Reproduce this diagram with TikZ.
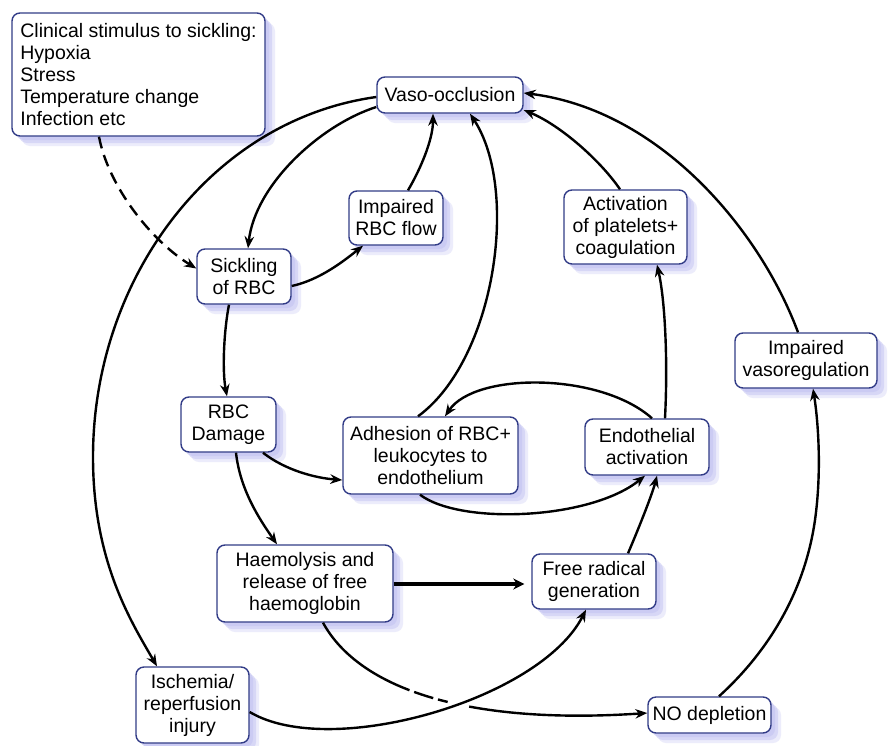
\documentclass[tikz,border=0pt]{standalone}
\usepackage{fontspec}
\setmainfont{Liberation Sans}
\usetikzlibrary{arrows.meta,shadows}
\definecolor{boxc}{RGB}{50,60,135}
\definecolor{shc}{RGB}{195,195,242}
\begin{document}
\begin{tikzpicture}[x=1pt,y=-1pt,
  box/.style={draw=boxc, line width=1.4pt, rounded corners=8pt, fill=white,
    align=center, inner sep=0pt, font=\fontsize{19.5}{22}\selectfont,
    general shadow={fill=shc, opacity=0.3, shadow xshift=10pt, shadow yshift=-10pt},
    general shadow={fill=shc, opacity=0.5, shadow xshift=7pt, shadow yshift=-7pt},
    general shadow={fill=shc, opacity=0.6, shadow xshift=4pt, shadow yshift=-4pt}},
  conn/.style={line width=2.4pt, -{Stealth[length=12pt,width=9.5pt]}},
]
\useasboundingbox (0,0) rectangle (889,745);
\fill[white] (0,0) rectangle (889,745);

\node[box,minimum width=253pt,minimum height=123pt,align=left] (clin) at (138.5,74.5)
  {Clinical stimulus to sickling:\\Hypoxia\\Stress\\Temperature change\\Infection etc};
\node[box,minimum width=146pt,minimum height=36pt] (vaso) at (450,95) {Vaso-occlusion};
\node[box,minimum width=94pt,minimum height=54pt] (irbc) at (396,218) {Impaired\\RBC flow};
\node[box,minimum width=123pt,minimum height=74pt] (act) at (625.5,227) {Activation\\of platelets+\\coagulation};
\node[box,minimum width=94pt,minimum height=55pt] (sick) at (244,276.5) {Sickling\\of RBC};
\node[box,minimum width=142pt,minimum height=55pt] (ivr) at (806,360.5) {Impaired\\vasoregulation};
\node[box,minimum width=95pt,minimum height=55pt] (rbcd) at (228.5,424.5) {RBC\\Damage};
\node[box,minimum width=175pt,minimum height=77pt] (adh) at (430.5,455.5) {Adhesion of RBC+\\leukocytes to\\endothelium};
\node[box,minimum width=124pt,minimum height=56pt] (endo) at (647,447) {Endothelial\\activation};
\node[box,minimum width=176pt,minimum height=77pt] (haem) at (305,583.5) {Haemolysis and\\release of free\\haemoglobin};
\node[box,minimum width=124pt,minimum height=55pt] (frad) at (594,581.5) {Free radical\\generation};
\node[box,minimum width=113pt,minimum height=76pt] (isch) at (192.5,705) {Ischemia/\\reperfusion\\injury};
\node[box,minimum width=123pt,minimum height=36pt] (nod) at (709.5,715) {NO depletion};

\coordinate (lft) at (93,457);
\coordinate (rgt) at (815,520);

\draw[conn,dash pattern=on 12pt off 7pt] ([xshift=-39.5pt]clin.south) .. controls (108,185) and (150,240) .. ([yshift=8pt]sick.west);
\draw[conn] ([yshift=-12pt]vaso.west) .. controls (320,125) and (255,185) .. ([xshift=4pt]sick.north);
\draw[conn] ([yshift=-2pt]vaso.west) .. controls (210,120) and (93,280) .. (lft) .. controls (93,560) and (130,620) .. ([xshift=-35.5pt]isch.north);
\draw[conn] ([yshift=-9.5pt]sick.east) .. controls (320,280) and (345,260) .. ([xshift=-33pt]irbc.south);
\draw[conn] ([xshift=12pt]irbc.north) .. controls (420,170) and (433,140) .. ([xshift=-17pt]vaso.south);
\draw[conn] ([xshift=-15pt]sick.south) .. controls (224,330) and (222,370) .. ([xshift=-1.5pt]rbcd.north);
\draw[conn] ([xshift=34.5pt]rbcd.south) .. controls (285,470) and (315,478) .. ([yshift=-24.5pt]adh.west);
\draw[conn] ([xshift=7.5pt]rbcd.south) .. controls (240,490) and (260,520) .. ([xshift=-28pt]haem.north);
\draw[conn] ([xshift=-12.5pt]adh.north) .. controls (495,360) and (520,190) .. ([xshift=20pt]vaso.south);
\draw[conn] ([xshift=5pt]endo.north) .. controls (600,372) and (475,372) .. ([xshift=14.5pt]adh.north);
\draw[conn] ([xshift=-10.5pt]adh.south) .. controls (460,525) and (590,520) .. ([xshift=-2pt]endo.south);
\draw[conn] ([xshift=18pt]endo.north) .. controls (668,360) and (665,300) .. ([xshift=31.5pt]act.south);
\draw[conn] ([xshift=-5.5pt]act.north) .. controls (600,160) and (560,125) .. ([yshift=-15pt]vaso.east);
\draw[conn] ([xshift=-8pt]ivr.north) .. controls (760,230) and (660,110) .. ([yshift=2pt]vaso.east);
\draw[conn] ([xshift=9.5pt]nod.north) .. controls (770,650) and (805,590) .. (rgt) .. controls (822,470) and (818,420) .. ([xshift=7pt]ivr.south);
\draw[line width=4pt, shorten >=7pt, -{Stealth[length=11pt,width=11pt]}] ([yshift=-0.5pt]haem.east) -- ([yshift=-2.5pt]frad.west);
\draw[conn] ([xshift=34pt]frad.north) .. controls (638,530) and (652,495) .. ([xshift=10pt]endo.south);
\draw[conn] ([yshift=-7pt]isch.east) .. controls (330,760) and (540,700) .. ([xshift=-8pt]frad.south);
\draw[conn,dash pattern=on 112pt off 5pt on 20pt off 5pt on 10pt off 22pt on 600pt] ([xshift=18pt]haem.south) .. controls (360,690) and (470,725) .. ([yshift=2pt]nod.west);
\end{tikzpicture}
\end{document}
